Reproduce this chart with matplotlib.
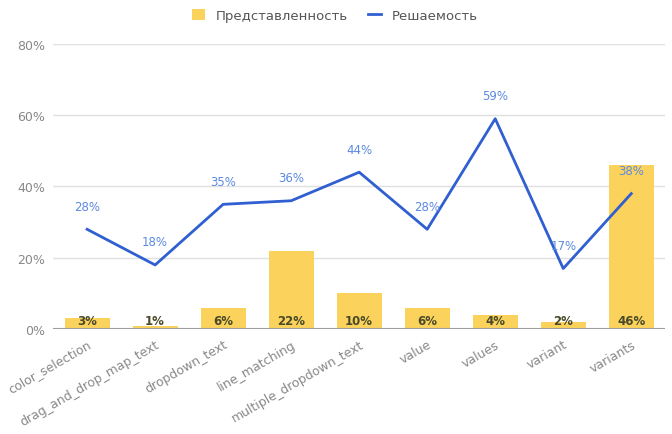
import matplotlib.pyplot as plt
import numpy as np

categories = ["color_selection", "drag_and_drop_map_text", "dropdown_text", "line_matching",
              "multiple_dropdown_text", "value", "values", "variant", "variants"]
share = [3, 1, 6, 22, 10, 6, 4, 2, 46]        # Представленность, %
solved = [28, 18, 35, 36, 44, 28, 59, 17, 38]  # Решаемость, %

bar_color = "#fbd35c"
line_color = "#2f5fd0"
grey = "#888888"

fig = plt.figure(figsize=(6.72, 4.35), dpi=100)
ax = fig.add_axes([0.079, 0.241, 0.911, 0.656])

x = np.arange(len(categories))
bars = ax.bar(x, np.array(share) / 100, width=0.66, color=bar_color, label="Представленность", zorder=2)
line, = ax.plot(x, np.array(solved) / 100, color=line_color, lw=2, label="Решаемость", zorder=3)

for xi, v in zip(x, share):
    ax.text(xi, 0.006, f"{v}%", ha="center", va="bottom", fontsize=8.5,
            color="#4a4a2a", fontweight="bold", zorder=4)
for xi, v in zip(x, solved):
    ax.annotate(f"{v}%", (xi, v / 100), xytext=(0, 12), textcoords="offset points",
                ha="center", va="bottom", fontsize=8.5, color="#5b8ae0", zorder=4)

ax.set_xlim(-0.5, len(categories) - 0.5)
ax.set_ylim(0, 0.8)
ax.set_yticks([0, 0.2, 0.4, 0.6, 0.8])
ax.set_yticklabels(["0%", "20%", "40%", "60%", "80%"])
ax.set_xticks(x)
ax.set_xticklabels(categories, rotation=30, ha="right", rotation_mode="anchor")
ax.tick_params(axis="both", length=0, colors=grey, labelsize=9, pad=6)
ax.grid(axis="y", color="#e0e0e0", lw=1, zorder=0)
for s in ax.spines.values():
    s.set_visible(False)
ax.axhline(0, color="#9e9e9e", lw=1.5, zorder=3)

leg = ax.legend([bars, line], ["Представленность", "Решаемость"], loc="upper center",
                bbox_to_anchor=(0.46, 1.165), ncol=2, frameon=False,
                fontsize=9.5, handlelength=1.0, handleheight=1.0, columnspacing=1.5)
for t in leg.get_texts():
    t.set_color("#555555")

fig.savefig("out.png", dpi=100)
